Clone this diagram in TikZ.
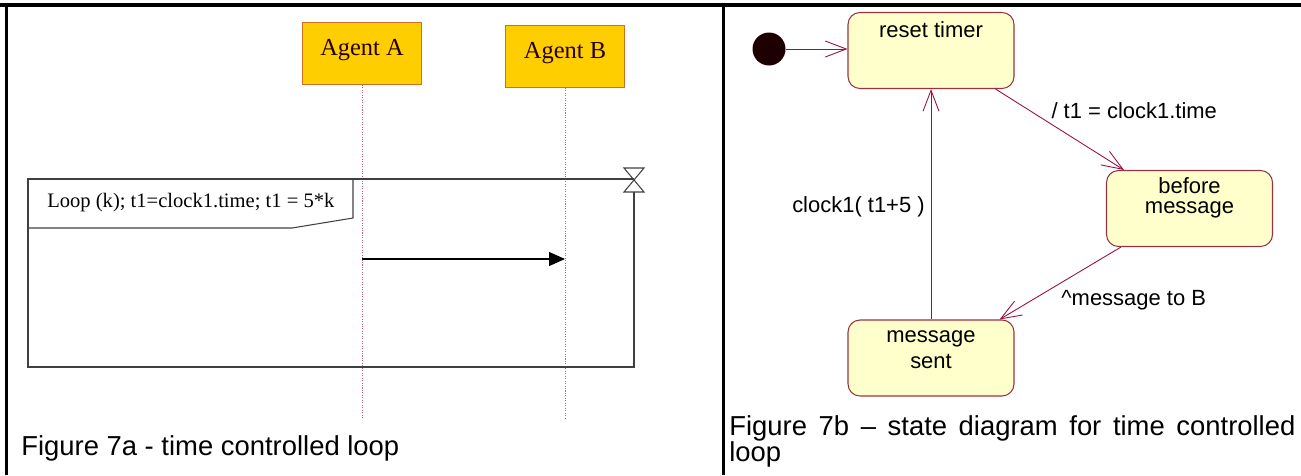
\documentclass[tikz,border=0pt]{standalone}
\usepackage{fontspec}
\setmainfont{Liberation Serif}
\setsansfont{Liberation Sans}
\usepackage{tikz}
\usetikzlibrary{arrows.meta}
\usetikzlibrary{calc}
\usetikzlibrary{positioning}

\definecolor{agentfill}{RGB}{255,206,0}
\definecolor{agentline}{RGB}{204,112,40}
\definecolor{lifered}{RGB}{196,96,120}
\definecolor{statefill}{RGB}{255,255,204}
\definecolor{stateline}{RGB}{153,51,68}
\definecolor{transline}{RGB}{153,17,68}

\begin{document}
\begin{tikzpicture}[x=0.2mm, y=-0.2mm,
	agent/.style={draw=agentline, fill=agentfill, minimum width=23.8mm, minimum height=12.4mm,
		inner sep=0pt, text height=3.4mm, text depth=2.8mm, text=black!85!red,
		font=\fontsize{13.9}{16}\selectfont},
	frame/.style={draw=black!75, line width=0.6pt},
	lifeline/.style={draw=lifered, dash pattern=on 0.6pt off 0.8pt, line width=0.5pt},
	state/.style={draw=stateline, fill=statefill, rounded corners=2.4mm, line width=0.6pt,
		minimum width=33.2mm, minimum height=15.2mm},
	statetext/.style={font=\sffamily\fontsize{12.5}{15}\selectfont, align=center, inner sep=0pt, anchor=north},
	caption/.style={font=\sffamily\fontsize{15.6}{14.7}\selectfont, inner sep=0pt}]
	\useasboundingbox (0,0) rectangle (1301,475);

	% table rules
	\draw[line width=0.7mm] (0,5) -- (1301,5);
	\draw[line width=0.6mm] (6.5,5) -- (6.5,475);
	\draw[line width=0.6mm] (723,5) -- (723,475);

	% 7a: sequence diagram
	\node[agent] (agentA) at (362,53.5) {Agent A};
	\node[agent] (agentB) at (565,56.5) {Agent B};
	\coordinate (endA) at (362,418);
	\coordinate (endB) at (565,418);
	\draw[lifeline] (agentA) -- (endA);
	\draw[lifeline] (agentB) -- (endB);

	\draw[frame] (634,192) -- (634,367) -- (28,367) -- (28,179) -- (634,179);
	\draw[frame] (624,168) -- (644,168) -- (624,192) -- (644,192) -- cycle;
	\draw[frame] (28,228) -- (292,228) -- (353,218) -- (353,179);
	\node[anchor=west, inner sep=0pt, font=\fontsize{11.7}{14}\selectfont] (looptext) at (47,203)
		{Loop (k); t1=clock1.time; t1 = 5*k};

	\coordinate (msgA) at (362,259);
	\coordinate (msgB) at (565,259);
	\draw[line width=0.6pt, -{Triangle[length=3.2mm, width=2.8mm]}] (msgA) -- (msgB);

	\node[caption, anchor=base west] (capA) at (21,455) {Figure 7a - time controlled loop};

	% 7b: state diagram
	\node[circle, fill=black!88!red, minimum size=6.6mm, inner sep=0pt] (init) at (769,49) {};
	\node[state, label={[statetext, yshift=-1.8mm]north:reset timer}] (reset) at (931,50.5) {};
	\node[state, label={[statetext, yshift=-1.4mm]north:before\\[-3.5pt]message}] (before) at (1189.5,208.5) {};
	\node[state, label={[statetext, yshift=-2.2mm]north:message\\[-0.5pt]sent}] (sent) at (931,358) {};

	\begin{scope}[every edge/.style={draw=transline, line width=0.5pt,
	              -{Straight Barb[length=4.2mm, width=3.2mm]}},
	              every node/.style={font=\sffamily\fontsize{12.5}{15}\selectfont}]
		\path (init) edge (init -| reset.west);
		\path ([xshift=-3.8mm]reset.south east) edge node[pos=0.27, right=3mm] {/ t1 = clock1.time}
			([xshift=3.6mm]before.north west);
		\path ([xshift=3mm]before.south west) edge node[pos=0.74, right=4.8mm] {\textasciicircum message to B}
			([xshift=-3mm]sent.north east);
		\path (sent) edge node[pos=0.49, left] {clock1( t1+5 )} (reset);
	\end{scope}

	\node[caption, anchor=north west, text width=113.2mm, align=justify] (capB) at (729,415)
		{Figure 7b – state diagram for time controlled loop};
\end{tikzpicture}
\end{document}
